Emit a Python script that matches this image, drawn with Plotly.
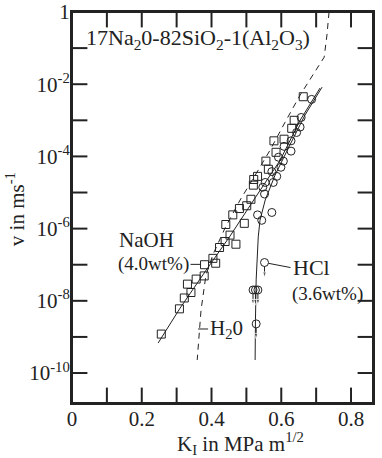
import plotly.graph_objects as go

# NaOH (4.0 wt%) - open squares
naoh_k = [0.256, 0.308, 0.322, 0.341, 0.331, 0.356, 0.379, 0.380, 0.412, 0.404,
          0.423, 0.439, 0.453, 0.470, 0.441, 0.461, 0.480, 0.494, 0.501, 0.513,
          0.520, 0.532, 0.521, 0.556, 0.563, 0.579, 0.585, 0.608, 0.630, 0.637,
          0.663]
naoh_v = [1.2e-9, 6.0e-9, 1.2e-8, 1.7e-8, 2.9e-8, 4.0e-8, 4.9e-8, 1.0e-7, 1.1e-7, 1.5e-7,
          3.0e-7, 4.4e-7, 6.6e-7, 3.7e-7, 1.3e-6, 2.4e-6, 3.6e-6, 1.4e-6, 4.3e-6, 6.5e-6,
          1.6e-5, 2.8e-5, 2.3e-5, 7.4e-5, 4.4e-5, 2.7e-4, 1.3e-4, 3.0e-4, 6.0e-4, 1.0e-3,
          4.5e-3]
naoh_line_k = [0.247, 0.310, 0.381, 0.453, 0.525, 0.597, 0.654, 0.711]
naoh_line_v = [6.8e-10, 6.3e-9, 6.3e-8, 6.2e-7, 7.1e-6, 7.9e-5, 1.0e-3, 7.8e-3]

# HCl (3.6 wt%) - open circles
hcl_k = [0.687, 0.657, 0.654, 0.644, 0.628, 0.628, 0.608, 0.606, 0.592, 0.599,
         0.587, 0.577, 0.573, 0.554, 0.552, 0.547, 0.573, 0.544, 0.532]
hcl_v = [3.8e-3, 1.2e-3, 6.5e-4, 4.6e-4, 2.7e-4, 1.4e-4, 1.9e-4, 7.4e-5, 9.5e-5, 5.0e-5,
         2.8e-5, 1.9e-5, 3.8e-5, 1.9e-5, 9.1e-6, 1.4e-5, 2.8e-6, 1.7e-6, 2.4e-6]
# runs that did not propagate (upper limits, drawn with down arrows)
hcl_lim_k = [0.552, 0.519, 0.526, 0.533, 0.528]
hcl_lim_v = [1.15e-7, 2.0e-8, 2.0e-8, 2.0e-8, 2.3e-9]
hcl_line_k = [0.717, 0.668, 0.625, 0.582, 0.554, 0.539, 0.534, 0.528, 0.526, 0.525]
hcl_line_v = [8.3e-3, 1.4e-3, 2.1e-4, 3.0e-5, 6.2e-6, 1.7e-6, 5.9e-7, 3.8e-8, 3.0e-9, 2.3e-10]

# H2O - dashed curve
h2o_k = [0.737, 0.731, 0.723, 0.697, 0.654, 0.611, 0.568, 0.525, 0.482, 0.439,
         0.404, 0.384, 0.370, 0.359]
h2o_v = [1.0, 0.23, 5.6e-2, 2.2e-2, 5.0e-3, 8.9e-4, 1.5e-4, 3.0e-5, 6.2e-6, 1.05e-6,
         1.9e-7, 5.1e-8, 5.6e-9, 2.3e-10]

# axes
X_RANGE = [0, 0.863]
Y_RANGE = [-10.83, 0]          # log10 of v
x_labeled = [0, 0.2, 0.4, 0.6, 0.8]
x_labels = ["0", "0.2", "0.4", "0.6", "0.8"]
x_all_ticks = [0.1, 0.2, 0.3, 0.4, 0.5, 0.6, 0.7, 0.8]
y_labeled = [1, 1e-2, 1e-4, 1e-6, 1e-8, 1e-10]
y_labels = ["1", "10<sup>-2</sup>", "10<sup>-4</sup>", "10<sup>-6</sup>",
            "10<sup>-8</sup>", "10<sup>-10</sup>"]
y_all_ticks = [1e-1, 1e-2, 1e-3, 1e-4, 1e-5, 1e-6, 1e-7, 1e-8, 1e-9, 1e-10]

FONT = "Liberation Serif, Times New Roman, serif"
INK = "#222222"

fig = go.Figure()

fig.add_trace(go.Scatter(x=h2o_k, y=h2o_v, mode="lines",
                         line=dict(color=INK, width=1, dash="6px,5px")))
fig.add_trace(go.Scatter(x=naoh_line_k, y=naoh_line_v, mode="lines",
                         line=dict(color=INK, width=1)))
fig.add_trace(go.Scatter(x=hcl_line_k, y=hcl_line_v, mode="lines",
                         line=dict(color=INK, width=1)))
fig.add_trace(go.Scatter(x=naoh_k, y=naoh_v, mode="markers",
                         marker=dict(symbol="square-open", size=8, color=INK,
                                     line=dict(width=1))))
fig.add_trace(go.Scatter(x=hcl_k + hcl_lim_k, y=hcl_v + hcl_lim_v, mode="markers",
                         marker=dict(symbol="circle-open", size=8, color=INK,
                                     line=dict(width=1))))

# short down arrows under the HCl limits (arrow length ~0.4 decade)
for k, v in zip(hcl_lim_k, hcl_lim_v):
    fig.add_trace(go.Scatter(
        x=[k, k], y=[v * 0.78, v * 0.38], mode="lines+markers",
        line=dict(color=INK, width=1),
        marker=dict(symbol="arrow", angleref="previous", size=[0, 6], color=INK),
    ))

# inward tick marks on all four sides (half of each marker is clipped by the frame)
tick_marker = dict(size=22, color=INK, line=dict(width=2, color=INK))
for xv in X_RANGE:
    fig.add_trace(go.Scatter(x=[xv] * len(y_all_ticks), y=y_all_ticks, mode="markers",
                             marker=dict(symbol="line-ew-open", **tick_marker)))
for yv in Y_RANGE:
    fig.add_trace(go.Scatter(x=x_all_ticks, y=[10 ** yv] * len(x_all_ticks),
                             mode="markers",
                             marker=dict(symbol="line-ns-open", **tick_marker)))

# frame
fig.add_shape(type="rect", xref="paper", yref="paper", x0=0, y0=0, x1=1, y1=1,
              line=dict(color=INK, width=2))

# labels
fig.add_annotation(x=0.129, y=-6.32, text="NaOH", showarrow=False,
                   xanchor="left", font=dict(size=21))
fig.add_annotation(x=naoh_k[7], y=-6.99, text="(4.0wt%)", showarrow=True,
                   ax=-14, ay=0, xanchor="right", arrowhead=0, arrowwidth=1,
                   arrowcolor=INK, standoff=4, font=dict(size=19))
fig.add_annotation(x=hcl_lim_k[0], y=-6.94, text="HCl", showarrow=True,
                   ax=26, ay=5, xanchor="left", arrowhead=0, arrowwidth=1,
                   arrowcolor=INK, standoff=4, font=dict(size=22))
fig.add_annotation(x=0.625, y=-7.81, text="(3.6wt%)", showarrow=False,
                   xanchor="left", font=dict(size=19))
fig.add_annotation(x=0.3615, y=-8.78, text="H<sub>2</sub>0", showarrow=True,
                   ax=10, ay=0, xanchor="left", arrowhead=0, arrowwidth=1,
                   arrowcolor=INK, font=dict(size=21))
fig.add_annotation(x=0.040, y=0.932, xref="paper", yref="paper",
                   xanchor="left", yanchor="middle",
                   text="17Na<sub>2</sub>0-82SiO<sub>2</sub>-1(Al<sub>2</sub>O<sub>3</sub>)",
                   showarrow=False, font=dict(size=22))

# axis titles
fig.add_annotation(x=0.561, y=-0.104, xref="paper", yref="paper",
                   xanchor="center", yanchor="middle",
                   text="K<sub>I</sub> in MPa m<sup>1/2</sup>", showarrow=False,
                   font=dict(size=21))
fig.add_annotation(x=-0.189, y=0.496, xref="paper", yref="paper", textangle=-90,
                   xanchor="center", yanchor="middle",
                   text="v in ms<sup>-1</sup>", showarrow=False, font=dict(size=21))

axis_style = dict(showline=True, linecolor=INK, linewidth=2, mirror=True, ticks="",
                  automargin=False, showgrid=False, zeroline=False,
                  tickfont=dict(size=21, color=INK))

fig.update_xaxes(range=X_RANGE, tickmode="array", tickvals=x_labeled, ticktext=x_labels,
                 ticklabelstandoff=-4, **axis_style)
fig.update_yaxes(type="log", range=Y_RANGE, tickmode="array", tickvals=y_labeled,
                 ticktext=y_labels, ticklabelstandoff=-4, **axis_style)

fig.update_layout(
    width=382, height=458,
    margin=dict(l=72, r=9, t=12, b=55),
    plot_bgcolor="white", paper_bgcolor="white",
    showlegend=False,
    font=dict(family=FONT, color=INK),
)

fig.write_html("out.html", config={"displayModeBar": False},
               post_script="document.body.style.margin = '0px';")
